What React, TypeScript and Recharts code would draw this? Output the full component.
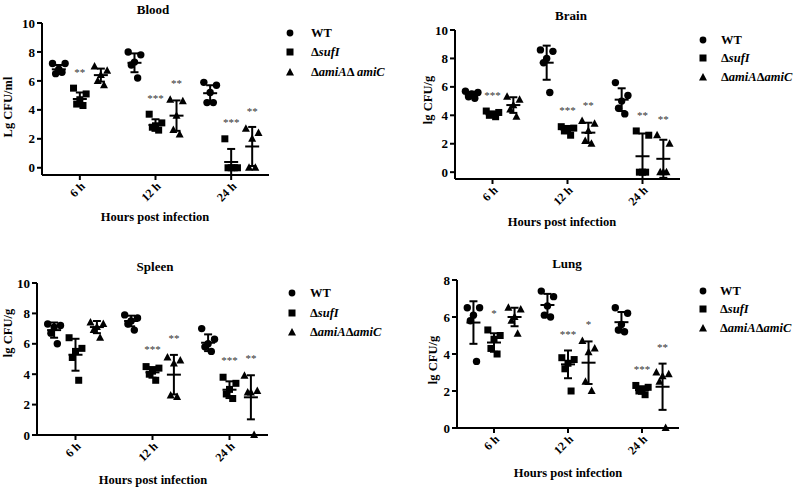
import { ErrorBar, Scatter, ScatterChart, XAxis, YAxis } from 'recharts'

// time points and group spacing (each time point holds WT / ΔsufI / ΔamiAΔamiC side by side)
const TIME_LABELS = ['6 h', '12 h', '24 h']
const GAP = 3.6
const JITTER = [-0.3, 0.3, 0, -0.15, 0.15]

// Blood (Lg CFU/ml)
const BLOOD_WT = [[7.2, 7.2, 6.8, 6.5, 6.6], [8.0, 7.8, 7.3, 7.1, 6.2], [5.9, 5.7, 5.2, 4.5, 4.5]]
const BLOOD_SUFI = [[5.5, 5.1, 4.7, 4.4, 4.3], [3.7, 3.1, 2.9, 2.8, 2.6], [2.0, 0, 0, 0, 0]]
const BLOOD_AMI = [[7.0, 6.7, 6.4, 6.0, 5.7], [4.7, 4.6, 3.6, 2.6, 2.3], [2.7, 2.4, 2.0, 0, 0]]
const BLOOD_MEAN = [[6.8, 7.25, 5.15], [4.75, 2.95, 0.4], [6.4, 3.6, 1.47]]
const BLOOD_SD = [[0.3, 0.65, 0.55], [0.45, 0.4, 0.9], [0.45, 1.05, 1.35]]
const BLOOD_STARS = [['', '', ''], ['**', '***', '***'], ['', '**', '**']]

// Brain (lg CFU/g)
const BRAIN_WT = [[5.7, 5.6, 5.5, 5.3, 5.2], [8.6, 8.5, 8.0, 7.7, 5.6], [6.3, 5.4, 5.0, 4.5, 4.1]]
const BRAIN_SUFI = [[4.3, 4.2, 4.1, 4.0, 3.9], [3.2, 3.1, 3.0, 2.9, 2.6], [2.9, 2.6, 0, 0, 0]]
const BRAIN_AMI = [[5.3, 5.1, 4.7, 4.4, 3.9], [3.6, 3.4, 2.9, 2.2, 2.0], [2.6, 2.0, 0, 0, 0]]
const BRAIN_MEAN = [[5.45, 7.7, 5.1], [4.07, 3.0, 1.12], [4.72, 2.78, 0.94]]
const BRAIN_SD = [[0.2, 1.2, 0.8], [0.15, 0.25, 1.6], [0.55, 0.7, 1.34]]
const BRAIN_STARS = [['', '', ''], ['***', '***', '**'], ['', '**', '**']]

// Spleen (lg CFU/g)
const SPLEEN_WT = [[7.3, 7.2, 7.1, 6.7, 6.0], [7.9, 7.7, 7.5, 7.3, 6.9], [7.0, 6.3, 6.0, 5.8, 5.5]]
const SPLEEN_SUFI = [[6.4, 5.7, 5.5, 5.1, 3.6], [4.5, 4.4, 4.2, 4.0, 3.6], [3.8, 3.4, 3.0, 2.7, 2.4]]
const SPLEEN_AMI = [[7.4, 7.3, 7.1, 6.9, 6.4], [5.1, 4.9, 4.7, 2.6, 2.5], [3.9, 2.9, 2.8, 2.8, 0]]
const SPLEEN_MEAN = [[6.9, 7.5, 6.07], [5.28, 4.12, 2.98], [7.1, 3.97, 2.48]]
const SPLEEN_SD = [[0.5, 0.35, 0.55], [1.05, 0.35, 0.55], [0.4, 1.3, 1.45]]
const SPLEEN_STARS = [['', '', ''], ['', '***', '***'], ['', '**', '**']]

// Lung (lg CFU/g)
const LUNG_WT = [[6.5, 6.5, 6.1, 5.8, 3.6], [7.4, 7.1, 6.6, 6.1, 6.0], [6.5, 6.2, 5.6, 5.3, 5.2]]
const LUNG_SUFI = [[5.3, 5.0, 4.8, 4.3, 4.0], [3.8, 3.7, 3.5, 3.2, 2.0], [2.3, 2.2, 2.1, 2.0, 1.8]]
const LUNG_AMI = [[6.5, 6.4, 6.0, 5.8, 5.1], [4.7, 4.3, 4.1, 2.5, 2.0], [3.0, 2.9, 2.8, 2.5, 0]]
const LUNG_MEAN = [[5.7, 6.65, 5.72], [4.62, 3.44, 2.05], [6.0, 3.53, 2.23]]
const LUNG_SD = [[1.15, 0.6, 0.55], [0.5, 0.75, 0.2], [0.5, 1.15, 1.25]]
const LUNG_STARS = [['', '', ''], ['*', '***', '***'], ['', '*', '**']]

const FONT = '"Liberation Serif", "DejaVu Serif", "Times New Roman", serif'
const OFFSETS = [-1, 0, 1]

type Box = { l: number; r: number; t: number; b: number }

const Circle = (p: any) => <circle cx={p.cx} cy={p.cy} r={3.7} fill="#000" />
const Square = (p: any) => <rect x={p.cx - 3.5} y={p.cy - 3.5} width={7} height={7} fill="#000" />
const Triangle = (p: any) => (
  <polygon points={`${p.cx},${p.cy - 4.5} ${p.cx + 4},${p.cy + 3} ${p.cx - 4},${p.cy + 3}`} fill="#000" />
)
const MeanLine = (p: any) => (
  <line x1={p.cx - 7} x2={p.cx + 7} y1={p.cy} y2={p.cy} stroke="#000" strokeWidth={2} />
)
const Star = (p: any) => (
  <text x={p.cx} y={p.cy + 5} textAnchor="middle" fontFamily={FONT} fontSize={11} fill="#333">
    {p.payload.label}
  </text>
)

const XTick = (p: any) => {
  const { x, y, payload } = p
  const ax = x + 3
  const ay = y + 2
  return (
    <text
      x={ax}
      y={ay}
      transform={`rotate(-45 ${ax} ${ay})`}
      textAnchor="end"
      dy="0.35em"
      fontFamily={FONT}
      fontWeight="bold"
      fontSize={12}
      fill="#000"
    >
      {TIME_LABELS[Math.round(payload.value / GAP)]}
    </text>
  )
}

function points(vals: number[][], s: number) {
  return vals.flatMap((row, g) => row.map((v, i) => ({ x: g * GAP + OFFSETS[s] + JITTER[i], y: v })))
}

function Panel(props: {
  box: Box
  yMax: number
  groups: number[][][]
  mean: number[][]
  sd: number[][]
  stars: string[][]
}) {
  const { box, yMax, groups, mean, sd, stars } = props
  const padL = 50
  const padT = 20
  const padR = 15
  const padB = 55
  const w = box.r - box.l + padL + padR
  const h = box.b - box.t + padT + padB
  const yTicks = Array.from({ length: yMax / 2 + 1 }, (_, i) => i * 2)
  const meanData = [0, 1, 2].map((s) =>
    mean[s].map((m, g) => ({ x: g * GAP + OFFSETS[s], y: m, sd: sd[s][g] })),
  )
  const starData = [0, 1, 2].flatMap((s) =>
    stars[s]
      .map((label, g) => {
        const top = Math.max(...groups[s][g], mean[s][g] + sd[s][g])
        return { x: g * GAP + OFFSETS[s], y: top + yMax * 0.12, label }
      })
      .filter((d) => d.label),
  )
  const shapes = [Circle, Square, Triangle]
  return (
    <div style={{ position: 'absolute', left: box.l - padL, top: box.t - padT }}>
      <ScatterChart width={w} height={h} margin={{ top: padT, left: padL - 30, right: padR, bottom: padB - 30 }}>
        <XAxis
          type="number"
          dataKey="x"
          domain={[-1.8, 9.0]}
          ticks={[0, GAP, 2 * GAP]}
          interval={0}
          height={30}
          axisLine={{ stroke: '#000', strokeWidth: 2 }}
          tickLine={{ stroke: '#000', strokeWidth: 2 }}
          tickSize={5}
          tick={<XTick />}
        />
        <YAxis
          type="number"
          dataKey="y"
          domain={[0, yMax]}
          ticks={yTicks}
          interval={0}
          width={30}
          axisLine={{ stroke: '#000', strokeWidth: 2 }}
          tickLine={{ stroke: '#000', strokeWidth: 2 }}
          tickSize={5}
          tick={{ fontFamily: FONT, fontWeight: 'bold', fontSize: 13, fill: '#000' }}
        />
        {meanData.map((d, s) => (
          <Scatter key={`m${s}`} data={d} shape={MeanLine} isAnimationActive={false}>
            <ErrorBar dataKey="sd" direction="y" width={4} stroke="#000" strokeWidth={2} isAnimationActive={false} />
          </Scatter>
        ))}
        {groups.map((vals, s) => (
          <Scatter key={`p${s}`} data={points(vals, s)} shape={shapes[s]} isAnimationActive={false} />
        ))}
        <Scatter data={starData} shape={Star} isAnimationActive={false} />
      </ScatterChart>
    </div>
  )
}

const textStyle = {
  position: 'absolute' as const,
  fontFamily: FONT,
  fontWeight: 'bold' as const,
  color: '#000',
  whiteSpace: 'nowrap' as const,
}

function Centered({ x, y, size, rotate, children }: any) {
  return (
    <div
      style={{
        ...textStyle,
        left: x,
        top: y,
        fontSize: size,
        lineHeight: 1,
        transform: `translate(-50%, -50%)${rotate ? ' rotate(-90deg)' : ''}`,
      }}
    >
      {children}
    </div>
  )
}

function Legend({ mx, tx, ys, spaced }: { mx: number; tx: number; ys: number[]; spaced?: boolean }) {
  const markers = [
    <circle cx={5} cy={5} r={3.4} fill="#000" />,
    <rect x={1.5} y={1.5} width={7} height={7} fill="#000" />,
    <polygon points="5,1 9,8.5 1,8.5" fill="#000" />,
  ]
  const labels = [
    <span>WT</span>,
    <span>
      Δ<i>sufI</i>
    </span>,
    <span>
      Δ<i>amiA</i>Δ{spaced ? ' ' : ''}
      <i>amiC</i>
    </span>,
  ]
  return (
    <>
      {ys.map((y, i) => (
        <div key={i}>
          <svg width={10} height={10} style={{ position: 'absolute', left: mx - 5, top: y - 5 }}>
            {markers[i]}
          </svg>
          <div style={{ ...textStyle, left: tx, top: y - 7, fontSize: 12.5, lineHeight: '14px' }}>{labels[i]}</div>
        </div>
      ))}
    </>
  )
}

export default function App() {
  return (
    <div style={{ position: 'absolute', left: 0, top: 0, width: 800, height: 493, background: '#fff', overflow: 'hidden' }}>
      <Panel
        box={{ l: 42, r: 269, t: 23, b: 175 }}
        yMax={10}
        groups={[BLOOD_WT, BLOOD_SUFI, BLOOD_AMI]}
        mean={BLOOD_MEAN}
        sd={BLOOD_SD}
        stars={BLOOD_STARS}
      />
      <Panel
        box={{ l: 455, r: 680, t: 30, b: 179 }}
        yMax={10}
        groups={[BRAIN_WT, BRAIN_SUFI, BRAIN_AMI]}
        mean={BRAIN_MEAN}
        sd={BRAIN_SD}
        stars={BRAIN_STARS}
      />
      <Panel
        box={{ l: 37, r: 268, t: 283, b: 435 }}
        yMax={10}
        groups={[SPLEEN_WT, SPLEEN_SUFI, SPLEEN_AMI]}
        mean={SPLEEN_MEAN}
        sd={SPLEEN_SD}
        stars={SPLEEN_STARS}
      />
      <Panel
        box={{ l: 457, r: 679, t: 280, b: 428 }}
        yMax={8}
        groups={[LUNG_WT, LUNG_SUFI, LUNG_AMI]}
        mean={LUNG_MEAN}
        sd={LUNG_SD}
        stars={LUNG_STARS}
      />

      <Centered x={153} y={9} size={13}>Blood</Centered>
      <Centered x={571} y={15} size={13}>Brain</Centered>
      <Centered x={155} y={266} size={13}>Spleen</Centered>
      <Centered x={567} y={263} size={13}>Lung</Centered>

      <Centered x={155} y={217} size={12.5}>Hours post infection</Centered>
      <Centered x={562} y={222} size={12.5}>Hours post infection</Centered>
      <Centered x={153} y={480} size={12.5}>Hours post infection</Centered>
      <Centered x={568} y={473} size={12.5}>Hours post infection</Centered>

      <Centered x={8} y={107} size={12.5} rotate>Lg CFU/ml</Centered>
      <Centered x={428} y={100} size={12.5} rotate>lg CFU/g</Centered>
      <Centered x={8} y={333} size={12.5} rotate>lg CFU/g</Centered>
      <Centered x={433} y={360} size={12.5} rotate>lg CFU/g</Centered>

      <Legend mx={290} tx={311} ys={[33, 52, 72]} spaced />
      <Legend mx={703} tx={721} ys={[40, 58, 77]} />
      <Legend mx={292} tx={310} ys={[293, 313, 332]} />
      <Legend mx={703} tx={720} ys={[291, 309, 328]} />
    </div>
  )
}
